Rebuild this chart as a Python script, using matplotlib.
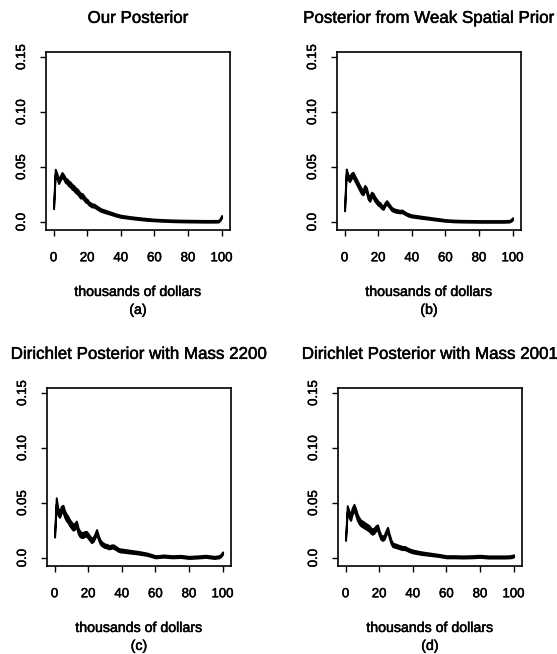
import matplotlib
matplotlib.use("Agg")
import matplotlib.pyplot as plt
import matplotlib.patheffects as pe
import numpy as np

plt.rcParams['font.family'] = ['Liberation Sans', 'DejaVu Sans']

# income grid (thousands of dollars)
x = list(range(0, 41)) + [45, 50, 55, 60, 65, 70, 75, 80, 85, 90, 95, 98, 99, 100]

# posterior density bands: centre and half-width
mid_a = [0.013, 0.046, 0.042, 0.037, 0.040, 0.043, 0.041, 0.038, 0.037, 0.035,
         0.034, 0.032, 0.031, 0.029, 0.028, 0.026, 0.024, 0.024, 0.022, 0.020,
         0.019, 0.017, 0.016, 0.015, 0.015, 0.014, 0.013, 0.012, 0.011, 0.0105,
         0.010, 0.0095, 0.009, 0.0085, 0.008, 0.0075, 0.007, 0.0065, 0.006, 0.0057,
         0.0053, 0.0042, 0.0033, 0.0025, 0.0019, 0.0015, 0.0012, 0.0010, 0.0009, 0.0008,
         0.0007, 0.0007, 0.0008, 0.0020, 0.0050]
hw_a = [0.0008, 0.0020, 0.0020, 0.0020, 0.0020, 0.0020, 0.0020, 0.0020, 0.0021, 0.0022,
        0.0022, 0.0022, 0.0022, 0.0022, 0.0022, 0.0022, 0.0022, 0.0020, 0.0019, 0.0018,
        0.0016, 0.0015, 0.0015, 0.0014, 0.0014, 0.0013, 0.0013, 0.0013, 0.0012, 0.0012,
        0.0012, 0.0012, 0.0011, 0.0011, 0.0011, 0.0011, 0.0010, 0.0010, 0.0010, 0.0010,
        0.0010, 0.0009, 0.0009, 0.0009, 0.0008, 0.0008, 0.0008, 0.0008, 0.0008, 0.0008,
        0.0008, 0.0008, 0.0008, 0.0008, 0.0010]

mid_b = [0.011, 0.046, 0.041, 0.039, 0.042, 0.043, 0.040, 0.037, 0.034, 0.031,
         0.028, 0.027, 0.031, 0.029, 0.023, 0.021, 0.025, 0.024, 0.021, 0.019,
         0.017, 0.016, 0.014, 0.013, 0.016, 0.018, 0.016, 0.014, 0.012, 0.011,
         0.0105, 0.0100, 0.0098, 0.0095, 0.0098, 0.0090, 0.0080, 0.0072, 0.0065, 0.0060,
         0.0056, 0.0045, 0.0035, 0.0025, 0.0015, 0.0010, 0.0008, 0.0007, 0.0006, 0.0006,
         0.0006, 0.0006, 0.0008, 0.0015, 0.0030]
hw_b = [0.0008, 0.0022, 0.0023, 0.0023, 0.0023, 0.0023, 0.0023, 0.0023, 0.0023, 0.0023,
        0.0023, 0.0023, 0.0023, 0.0023, 0.0022, 0.0022, 0.0022, 0.0021, 0.0020, 0.0019,
        0.0018, 0.0017, 0.0016, 0.0015, 0.0015, 0.0015, 0.0015, 0.0014, 0.0014, 0.0013,
        0.0013, 0.0013, 0.0012, 0.0012, 0.0012, 0.0012, 0.0011, 0.0011, 0.0011, 0.0011,
        0.0010, 0.0010, 0.0009, 0.0009, 0.0008, 0.0008, 0.0008, 0.0008, 0.0008, 0.0008,
        0.0008, 0.0008, 0.0008, 0.0008, 0.0010]

mid_c = [0.020, 0.052, 0.042, 0.040, 0.044, 0.045, 0.040, 0.037, 0.035, 0.032,
         0.030, 0.028, 0.029, 0.031, 0.025, 0.022, 0.021, 0.021, 0.022, 0.022,
         0.020, 0.018, 0.016, 0.017, 0.020, 0.024, 0.019, 0.015, 0.013, 0.012,
         0.011, 0.011, 0.010, 0.010, 0.0105, 0.0105, 0.0095, 0.0085, 0.0075, 0.0070,
         0.0068, 0.0058, 0.0048, 0.0035, 0.0012, 0.0018, 0.0012, 0.0015, 0.0006, 0.0010,
         0.0016, 0.0006, 0.0012, 0.0025, 0.0045]
hw_c = [0.0010, 0.0028, 0.0030, 0.0030, 0.0030, 0.0030, 0.0030, 0.0030, 0.0028, 0.0028,
        0.0027, 0.0027, 0.0027, 0.0026, 0.0025, 0.0024, 0.0024, 0.0023, 0.0022, 0.0022,
        0.0021, 0.0020, 0.0020, 0.0019, 0.0019, 0.0019, 0.0018, 0.0018, 0.0017, 0.0017,
        0.0016, 0.0016, 0.0016, 0.0015, 0.0015, 0.0015, 0.0015, 0.0014, 0.0014, 0.0014,
        0.0014, 0.0013, 0.0012, 0.0011, 0.0010, 0.0010, 0.0010, 0.0010, 0.0010, 0.0010,
        0.0010, 0.0010, 0.0010, 0.0010, 0.0011]

mid_d = [0.017, 0.045, 0.040, 0.037, 0.043, 0.046, 0.042, 0.037, 0.034, 0.032,
         0.031, 0.030, 0.029, 0.028, 0.027, 0.025, 0.024, 0.025, 0.027, 0.028,
         0.023, 0.019, 0.018, 0.019, 0.023, 0.026, 0.020, 0.015, 0.012, 0.0115,
         0.011, 0.0105, 0.010, 0.0095, 0.009, 0.0092, 0.0085, 0.0078, 0.0070, 0.0065,
         0.0060, 0.0045, 0.0035, 0.0025, 0.0012, 0.0012, 0.0010, 0.0012, 0.0016, 0.0010,
         0.0010, 0.0010, 0.0012, 0.0015, 0.0020]
hw_d = [0.0010, 0.0026, 0.0028, 0.0028, 0.0028, 0.0028, 0.0028, 0.0027, 0.0027, 0.0026,
        0.0026, 0.0026, 0.0025, 0.0025, 0.0025, 0.0024, 0.0024, 0.0023, 0.0022, 0.0022,
        0.0021, 0.0020, 0.0020, 0.0019, 0.0019, 0.0019, 0.0018, 0.0017, 0.0016, 0.0016,
        0.0016, 0.0015, 0.0015, 0.0015, 0.0014, 0.0014, 0.0014, 0.0013, 0.0013, 0.0013,
        0.0013, 0.0012, 0.0011, 0.0010, 0.0010, 0.0010, 0.0010, 0.0010, 0.0010, 0.0010,
        0.0010, 0.0010, 0.0010, 0.0010, 0.0010]

titles = ["Our Posterior", "Posterior from Weak Spatial Prior",
          "Dirichlet Posterior with Mass 2200", "Dirichlet Posterior with Mass 2001"]
letters = ["(a)", "(b)", "(c)", "(d)"]
mids = [mid_a, mid_b, mid_c, mid_d]
hws = [hw_a, hw_b, hw_c, hw_d]

xticks = [0, 20, 40, 60, 80, 100]
yticks = [0.0, 0.05, 0.10, 0.15]
ytick_labels = ["0.0", "0.05", "0.10", "0.15"]

W, H = 557, 654
fig = plt.figure(figsize=(W / 100, H / 100), dpi=100)

# slightly heavier text, like the scanned original
heavy = [pe.withStroke(linewidth=0.35, foreground='black')]

# axes boxes in pixels: left, top
boxes = [(46, 52), (337, 52), (47, 388), (338, 388)]
bw, bh = 184, 178

for i in range(4):
    left, top = boxes[i]
    ax = fig.add_axes([left / W, 1 - (top + bh) / H, bw / W, bh / H])
    xs = np.array(x)
    m = np.array(mids[i])
    h = np.array(hws[i])
    ax.fill_between(xs, m - h, m + h, facecolor='black', edgecolor='black', linewidth=1.4)
    ax.set_xlim(-4.5, 105)
    ax.set_ylim(-0.0072, 0.1545)
    ax.set_xticks(xticks)
    ax.set_xticklabels([str(t) for t in xticks], fontsize=9.5)
    ax.set_yticks(yticks)
    ax.set_yticklabels(ytick_labels, fontsize=9.5, rotation=90, va='center')
    ax.tick_params(direction='out', length=4, width=1, pad=9)
    ax.tick_params(axis='x', pad=12)
    for lab in ax.get_xticklabels() + ax.get_yticklabels():
        lab.set_path_effects(heavy)
    for s in ax.spines.values():
        s.set_linewidth(1.2)
    t = ax.set_title(titles[i], fontsize=12.2, pad=21)
    t.set_path_effects(heavy)
    ax.text(0.5, -0.348, "thousands of dollars", transform=ax.transAxes,
            ha='center', va='center', fontsize=10.2, path_effects=heavy)
    ax.text(0.5, -0.449, letters[i], transform=ax.transAxes,
            ha='center', va='center', fontsize=10.2, path_effects=heavy)

fig.savefig("out.png", dpi=100)
